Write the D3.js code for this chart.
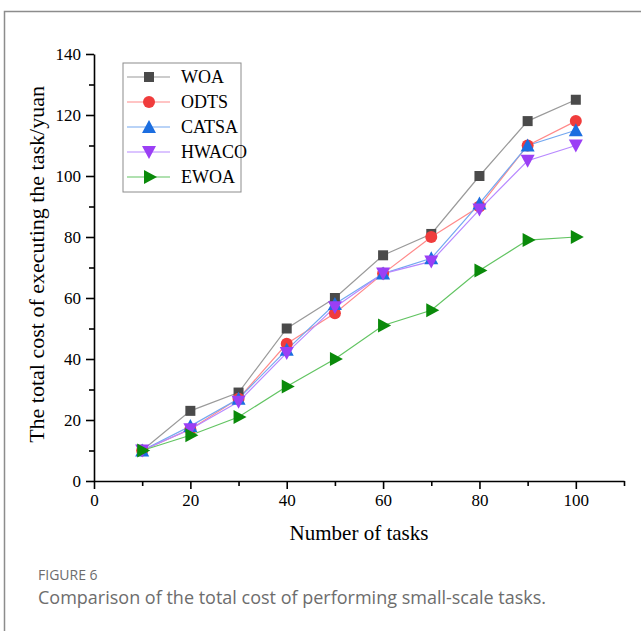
<!DOCTYPE html>
<html>
<head>
<meta charset="utf-8">
<script src="https://cdn.jsdelivr.net/npm/d3@7"></script>
<style>
  body { margin: 0; background: #fff; }
  svg { display: block; }
</style>
</head>
<body>
<svg id="chart" width="641" height="631"></svg>
<script>
"use strict";

const tasks = [10, 20, 30, 40, 50, 60, 70, 80, 90, 100];
const woa   = [10, 23, 29, 50, 60, 74, 81, 100, 118, 125];
const odts  = [10, 17, 27, 45, 55, 68, 80, 90, 110, 118];
const catsa = [10, 18, 27, 43, 58, 68, 73, 91, 110, 115];
const hwaco = [10, 17, 26, 42, 57, 68, 72, 89, 105, 110];
const ewoa  = [10, 15, 21, 31, 40, 51, 56, 69, 79, 80];
const xTicks = [0, 20, 40, 60, 80, 100];
const yTicks = [0, 20, 40, 60, 80, 100, 120, 140];

const series = [
    {name: "WOA",   values: woa,   line: "#9a9a9a", fill: "#4a4a4a", shape: "square"},
    {name: "ODTS",  values: odts,  line: "#ff8a8a", fill: "#f03c3c", shape: "circle"},
    {name: "CATSA", values: catsa, line: "#74a8f0", fill: "#1c6ee0", shape: "up"},
    {name: "HWACO", values: hwaco, line: "#b889ff", fill: "#9b3ff5", shape: "down"},
    {name: "EWOA",  values: ewoa,  line: "#62c462", fill: "#0a8a0a", shape: "right"}
];

const svg = d3.select("#chart"),
    margin = {top: 54, left: 94},
    width = 530,   // 0..110
    height = 427,  // 0..140
    x = d3.scaleLinear().domain([0, 110]).range([0, width]),
    y = d3.scaleLinear().domain([0, 140]).range([height, 0]),
    serif = "Liberation Serif, Times New Roman, serif";

// page frame
svg.append("path")
    .attr("d", "M4.5,631 V11.5 H641")
    .attr("fill", "none")
    .attr("stroke", "#8c8c8c")
    .attr("stroke-width", 1.5);

const g = svg.append("g")
    .attr("transform", `translate(${margin.left},${margin.top})`);

// axes: major ticks with labels, minor ticks without
g.append("g")
    .attr("transform", `translate(0,${height})`)
    .call(d3.axisBottom(x).tickValues(xTicks).tickSize(8).tickSizeOuter(0).tickPadding(5));
g.append("g")
    .attr("transform", `translate(0,${height})`)
    .call(d3.axisBottom(x).tickValues([10, 30, 50, 70, 90, 110]).tickSize(5).tickSizeOuter(0).tickFormat(""))
    .select(".domain").remove();

g.append("g")
    .call(d3.axisLeft(y).tickValues(yTicks).tickSize(8).tickSizeOuter(0).tickPadding(5));
g.append("g")
    .call(d3.axisLeft(y).tickValues([10, 30, 50, 70, 90, 110, 130]).tickSize(5).tickSizeOuter(0).tickFormat(""))
    .select(".domain").remove();

g.selectAll(".domain, .tick line")
    .attr("stroke", "#000")
    .attr("stroke-width", 1.6);
g.selectAll(".tick text")
    .style("font-family", serif)
    .style("font-size", "17px")
    .style("fill", "#000");

// axis titles
svg.append("text")
    .attr("x", margin.left + x(55))
    .attr("y", 540)
    .attr("text-anchor", "middle")
    .style("font-family", serif)
    .style("font-size", "21px")
    .text("Number of tasks");

svg.append("text")
    .attr("transform", `translate(44,${margin.top + y(71)}) rotate(-90)`)
    .attr("text-anchor", "middle")
    .style("font-family", serif)
    .style("font-size", "22px")
    .text("The total cost of executing the task/yuan");

// marker drawing
function marker(sel, shape, fill) {
    const s = 6;
    if (shape === "square") {
        sel.append("rect").attr("x", -5).attr("y", -5).attr("width", 10).attr("height", 10);
    } else if (shape === "circle") {
        sel.append("circle").attr("r", 6);
    } else if (shape === "up") {
        sel.append("path").attr("d", `M0,${-s - 1}L${s + 1},${s}L${-s - 1},${s}Z`);
    } else if (shape === "down") {
        sel.append("path").attr("d", `M0,${s + 1}L${s + 1},${-s}L${-s - 1},${-s}Z`);
    } else {
        sel.append("path").attr("d", `M${s + 2},0L${-s + 1},${-s - 1}L${-s + 1},${s + 1}Z`);
    }
    sel.selectAll("*").attr("fill", fill);
}

const line = d3.line()
    .x((d, i) => x(tasks[i]))
    .y(d => y(d));

series.forEach(s => {
    g.append("path")
        .datum(s.values)
        .attr("fill", "none")
        .attr("stroke", s.line)
        .attr("stroke-width", 1.2)
        .attr("d", line);
});

series.forEach(s => {
    g.selectAll(null)
        .data(s.values)
        .enter().append("g")
        .attr("transform", (d, i) => `translate(${x(tasks[i])},${y(d)})`)
        .each(function () { marker(d3.select(this), s.shape, s.fill); });
});

// legend
const legend = svg.append("g").attr("transform", "translate(123,63)");
legend.append("rect")
    .attr("width", 118)
    .attr("height", 129)
    .attr("fill", "#fff")
    .attr("stroke", "#8c8c8c")
    .attr("stroke-width", 1);

series.forEach((s, i) => {
    const row = legend.append("g").attr("transform", `translate(0,${14 + i * 25})`);
    row.append("line")
        .attr("x1", 4).attr("x2", 47)
        .attr("stroke", s.line)
        .attr("stroke-width", 1.2);
    marker(row.append("g").attr("transform", "translate(26,0)"), s.shape, s.fill);
    row.append("text")
        .attr("x", 58)
        .attr("y", 6)
        .style("font-family", serif)
        .style("font-size", "18px")
        .text(s.name);
});

// caption
svg.append("text")
    .attr("x", 38)
    .attr("y", 580)
    .style("font-family", "Open Sans, Noto Sans, sans-serif")
    .style("font-size", "14px")
    .attr("fill", "#6d6d6d")
    .text("FIGURE 6");

svg.append("text")
    .attr("x", 38)
    .attr("y", 604)
    .style("font-family", "Open Sans, Noto Sans, sans-serif")
    .style("font-size", "18px")
    .attr("fill", "#6d6d6d")
    .text("Comparison of the total cost of performing small-scale tasks.");
</script>
</body>
</html>
